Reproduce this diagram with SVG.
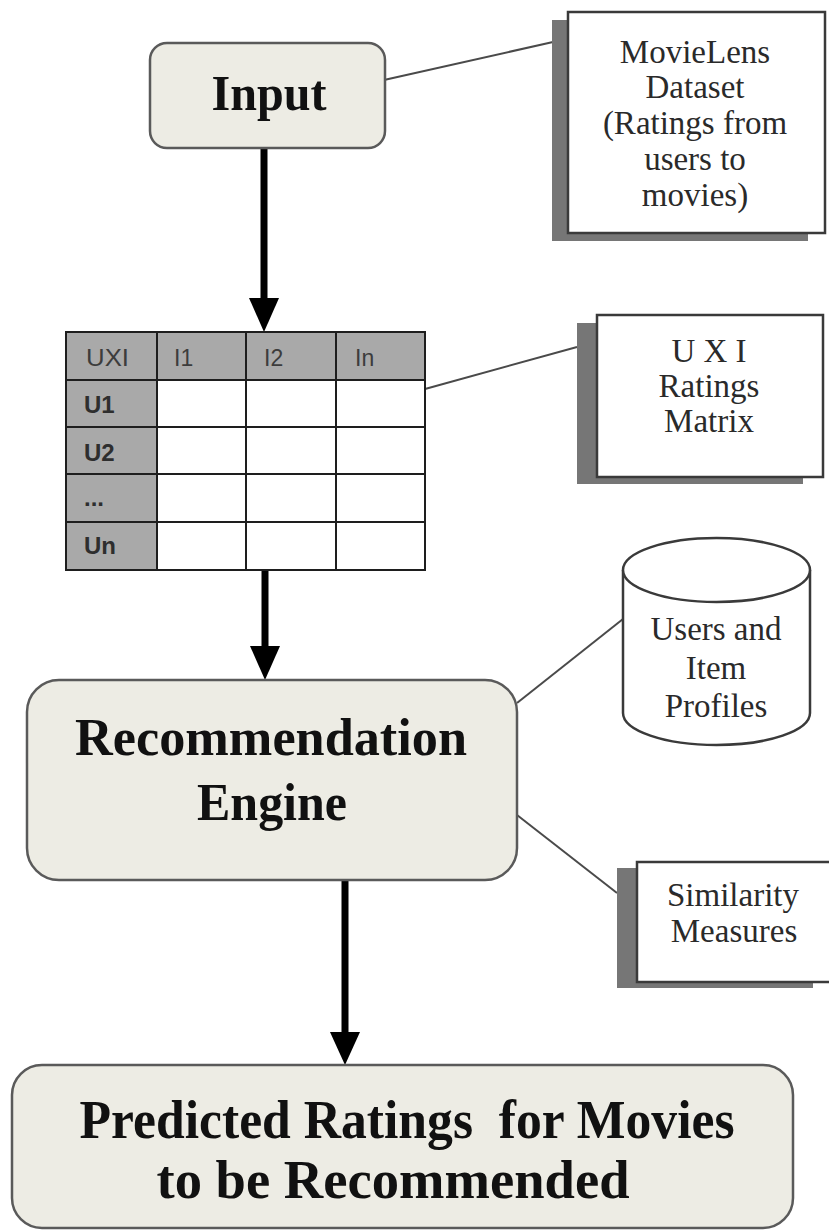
<svg xmlns="http://www.w3.org/2000/svg" width="829" height="1231" viewBox="0 0 829 1231">
  <style>
    .proc { fill: #edece4; stroke: #5a5a5a; stroke-width: 2.5; }
    .note { fill: #ffffff; stroke: #3a3a3a; stroke-width: 2.5; }
    .shadow { fill: #767676; }
    .big { font-family: "Liberation Serif", "Times New Roman", serif; font-weight: bold; fill: #111; text-anchor: middle; }
    .lbl { font-family: "Liberation Serif", "Times New Roman", serif; fill: #2a2a2a; text-anchor: middle; font-size: 33px; }
    .link { stroke: #4a4a4a; stroke-width: 2; fill: none; }
    .flow { stroke: #000; stroke-width: 7; fill: none; }
    .grid { stroke: #1e1e1e; stroke-width: 2; fill: none; }
    .hdr { fill: #a9a9a9; }
    .th { font-family: "Liberation Sans", Arial, sans-serif; font-size: 23px; fill: #3c3c3c; }
    .rh { font-family: "Liberation Sans", Arial, sans-serif; font-size: 24px; font-weight: bold; fill: #2e2e2e; }
  </style>

  <rect width="829" height="1231" fill="#ffffff"/>

  <!-- connectors: flow arrows and note links -->
  <g id="connectors">
    <line class="flow" x1="264" y1="149" x2="264" y2="300"/>
    <path d="M249 298 L279 298 L264 332 Z" fill="#000"/>
    <line class="flow" x1="265" y1="571" x2="265" y2="648"/>
    <path d="M250 646 L280 646 L265 680 Z" fill="#000"/>
    <line class="flow" x1="345" y1="881" x2="345" y2="1034"/>
    <path d="M330 1032 L360 1032 L345 1065 Z" fill="#000"/>
    <line class="link" x1="384" y1="80" x2="553" y2="42"/>
    <line class="link" x1="425" y1="389" x2="577" y2="347"/>
    <line class="link" x1="517" y1="703" x2="623" y2="619"/>
    <line class="link" x1="517" y1="815" x2="617" y2="893"/>
  </g>

  <!-- Input -->
  <g id="input">
    <rect class="proc" x="150" y="43" width="235" height="105" rx="17"/>
    <text class="big" x="269" y="110" font-size="50" textLength="115" lengthAdjust="spacingAndGlyphs">Input</text>
  </g>

  <!-- MovieLens dataset note -->
  <g id="movielens">
    <rect class="shadow" x="552" y="20" width="256" height="221"/>
    <rect class="note" x="568" y="12" width="257" height="221"/>
    <text class="lbl" x="695" y="63">MovieLens</text>
    <text class="lbl" x="695" y="98">Dataset</text>
    <text class="lbl" x="695" y="134">(Ratings from</text>
    <text class="lbl" x="695" y="170">users to</text>
    <text class="lbl" x="695" y="206">movies)</text>
  </g>

  <!-- U x I ratings matrix -->
  <g id="matrix">
    <rect x="66" y="332" width="359" height="238" fill="#ffffff"/>
    <rect class="hdr" x="66" y="332" width="359" height="48"/>
    <rect class="hdr" x="66" y="380" width="91" height="190"/>
    <rect class="grid" x="66" y="332" width="359" height="238"/>
    <line class="grid" x1="157" y1="332" x2="157" y2="570"/>
    <line class="grid" x1="246" y1="332" x2="246" y2="570"/>
    <line class="grid" x1="336" y1="332" x2="336" y2="570"/>
    <line class="grid" x1="66" y1="380" x2="425" y2="380"/>
    <line class="grid" x1="66" y1="427" x2="425" y2="427"/>
    <line class="grid" x1="66" y1="474" x2="425" y2="474"/>
    <line class="grid" x1="66" y1="522" x2="425" y2="522"/>
    <text class="th" x="86" y="366" textLength="43" lengthAdjust="spacingAndGlyphs">UXI</text>
    <text class="th" x="174" y="366">I1</text>
    <text class="th" x="264" y="366">I2</text>
    <text class="th" x="355" y="366">In</text>
    <text class="rh" x="84" y="413">U1</text>
    <text class="rh" x="84" y="461">U2</text>
    <text class="rh" x="84" y="506">...</text>
    <text class="rh" x="84" y="554">Un</text>
  </g>

  <!-- U X I note -->
  <g id="uxi-note">
    <rect class="shadow" x="577" y="323" width="226" height="161"/>
    <rect class="note" x="597" y="315" width="226" height="162"/>
    <text class="lbl" x="709" y="362">U X I</text>
    <text class="lbl" x="709" y="397">Ratings</text>
    <text class="lbl" x="709" y="432">Matrix</text>
  </g>

  <!-- Recommendation engine -->
  <g id="engine">
    <rect class="proc" x="27" y="680" width="490" height="200" rx="32"/>
    <text class="big" x="271" y="755" font-size="52" textLength="392" lengthAdjust="spacingAndGlyphs">Recommendation</text>
    <text class="big" x="272" y="820" font-size="52" textLength="150" lengthAdjust="spacingAndGlyphs">Engine</text>
  </g>

  <!-- Users and item profiles store -->
  <g id="profiles">
    <path d="M623 570 L623 713 A93.5 32 0 0 0 810 713 L810 570" fill="#ffffff" stroke="#3a3a3a" stroke-width="2.5"/>
    <ellipse cx="716.5" cy="570" rx="93.5" ry="32" fill="#ffffff" stroke="#3a3a3a" stroke-width="2.5"/>
    <text class="lbl" x="716" y="640">Users and</text>
    <text class="lbl" x="716" y="679">Item</text>
    <text class="lbl" x="716" y="717">Profiles</text>
  </g>

  <!-- Similarity measures note -->
  <g id="similarity">
    <rect class="shadow" x="617" y="868" width="196" height="120"/>
    <rect class="note" x="637" y="862" width="200" height="120"/>
    <text class="lbl" x="733" y="906" font-size="28">Similarity</text>
    <text class="lbl" x="734" y="942" font-size="28">Measures</text>
  </g>

  <!-- Predicted ratings output -->
  <g id="output">
    <rect class="proc" x="12" y="1065" width="781" height="163" rx="30"/>
    <text class="big" x="407" y="1138" font-size="54" textLength="655" lengthAdjust="spacingAndGlyphs" xml:space="preserve">Predicted Ratings  for Movies</text>
    <text class="big" x="393" y="1198" font-size="54" textLength="473" lengthAdjust="spacingAndGlyphs">to be Recommended</text>
  </g>
</svg>
